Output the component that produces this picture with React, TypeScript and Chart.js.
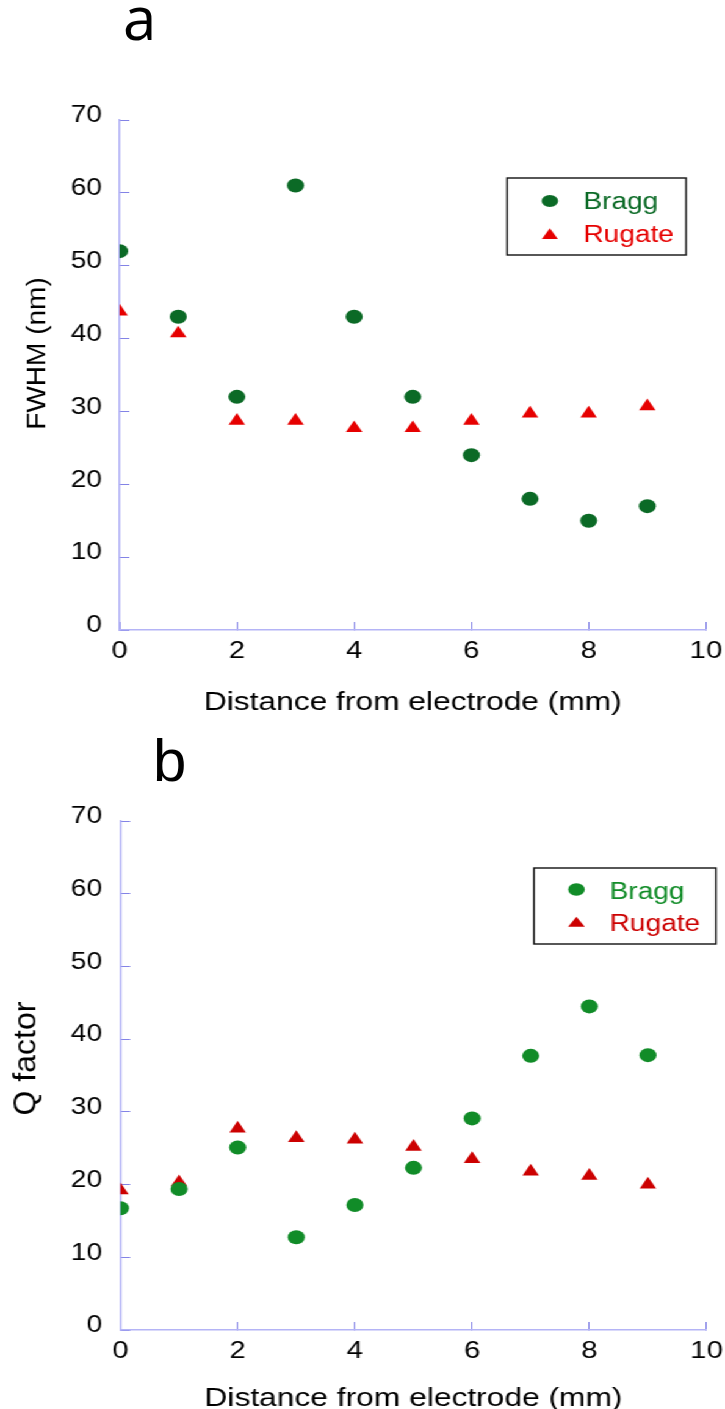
import React, { useEffect, useRef } from 'react';
import { Chart, registerables } from 'chart.js';

Chart.register(...registerables);

// ---- data ----
const distanceMm = [0, 1, 2, 3, 4, 5, 6, 7, 8, 9];
const fwhmBragg = [52, 43, 32, 61, 43, 32, 24, 18, 15, 17];
const fwhmRugate = [43.7, 40.7, 28.7, 28.7, 27.7, 27.7, 28.7, 29.7, 29.7, 30.7];
const qBragg = [16.75, 19.4, 25.1, 12.75, 17.2, 22.3, 29.1, 37.7, 44.5, 37.8];
const qRugate = [19.2, 20.3, 27.7, 26.4, 26.2, 25.2, 23.5, 21.8, 21.2, 20.0];
const xTickValues = [0, 2, 4, 6, 8, 10];
const yTickValues = [0, 10, 20, 30, 40, 50, 60, 70];
const seriesLabels = ['Bragg', 'Rugate'];
const xTitle = 'Distance from electrode (mm)';

// ---- styling ----
const CW = 594;
const S = 725 / CW; // horizontal stretch of the drawing
const FONT = '"Liberation Sans", Arial, Helvetica, sans-serif';
const AXIS = '#b4b4f6';
const TICK = '#8383e6';

const yTitlePlugin = {
  id: 'yTitle',
  afterDraw(chart: any, _a: any, o: any) {
    const ctx = chart.ctx;
    ctx.save();
    ctx.translate(o.x, o.y);
    ctx.scale(1 / S, 1);
    ctx.rotate(-Math.PI / 2);
    ctx.font = `${o.size}px ${FONT}`;
    ctx.fillStyle = '#000';
    ctx.textAlign = 'center';
    ctx.textBaseline = 'middle';
    ctx.fillText(o.text, 0, 0);
    ctx.restore();
  },
};

const boxLegendPlugin = {
  id: 'boxLegend',
  afterDraw(chart: any, _a: any, o: any) {
    const ctx = chart.ctx;
    ctx.save();
    ctx.lineWidth = 1.4;
    ctx.strokeStyle = '#111';
    ctx.strokeRect(o.left, o.top, o.width, o.height);
    chart.data.datasets.forEach((ds: any, i: number) => {
      const row = o.rows[i];
      ctx.fillStyle = ds.backgroundColor;
      ctx.beginPath();
      if (ds.pointStyle === 'triangle') {
        ctx.moveTo(o.markerX, row.my - o.triH / 2);
        ctx.lineTo(o.markerX + o.triW / 2, row.my + o.triH / 2);
        ctx.lineTo(o.markerX - o.triW / 2, row.my + o.triH / 2);
        ctx.closePath();
      } else {
        ctx.ellipse(o.markerX, row.my, o.rx, o.ry, 0, 0, Math.PI * 2);
      }
      ctx.fill();
      ctx.font = `${o.fontSize}px ${FONT}`;
      ctx.textAlign = 'left';
      ctx.textBaseline = 'alphabetic';
      ctx.fillText(ds.label, o.textX, row.ty);
    });
    ctx.restore();
  },
};

function makeConfig(p: any): any {
  return {
    type: 'scatter',
    data: {
      datasets: [
        {
          label: seriesLabels[0],
          data: distanceMm.map((x, i) => ({ x, y: p.bragg[i] })),
          pointStyle: 'circle',
          pointRadius: 7,
          pointHoverRadius: 7,
          backgroundColor: p.braggColor,
          borderWidth: 0,
        },
        {
          label: seriesLabels[1],
          data: distanceMm.map((x, i) => ({ x, y: p.rugate[i] })),
          pointStyle: 'triangle',
          pointRadius: 7.8,
          pointHoverRadius: 7.8,
          backgroundColor: p.rugateColor,
          borderWidth: 0,
        },
      ],
    },
    options: {
      responsive: false,
      animation: false,
      events: [],
      layout: { padding: { left: 0, right: p.padRight, top: p.padTop, bottom: 0 } },
      plugins: {
        legend: { display: false },
        tooltip: { enabled: false },
        title: { display: false },
        yTitle: p.yTitle,
        boxLegend: p.legend,
      },
      scales: {
        x: {
          type: 'linear',
          min: 0,
          max: 10,
          afterBuildTicks: (s: any) => {
            s.ticks = xTickValues.map((value) => ({ value }));
          },
          afterFit: (s: any) => {
            s.height = 90;
            s.paddingLeft = 0;
            s.paddingRight = 0;
          },
          ticks: { font: { family: FONT, size: 24 }, color: '#000', padding: 15, maxRotation: 0 },
          grid: { drawOnChartArea: false, drawTicks: true, tickLength: -8, tickColor: TICK, tickWidth: 1 },
          border: { display: true, color: AXIS, width: 1.5 },
          title: {
            display: true,
            text: xTitle,
            color: '#000',
            font: { family: FONT, size: 26 },
            padding: { top: 0, bottom: p.xTitlePad },
          },
        },
        y: {
          type: 'linear',
          min: 0,
          max: 70,
          afterBuildTicks: (s: any) => {
            s.ticks = yTickValues.map((value) => ({ value }));
          },
          afterFit: (s: any) => {
            s.width = p.yWidth;
            s.paddingTop = 0;
            s.paddingBottom = 0;
          },
          ticks: { font: { family: FONT, size: 23 }, color: '#000', padding: p.yTickPad, labelOffset: -4 },
          grid: { drawOnChartArea: false, drawTicks: true, tickLength: -8, tickColor: TICK, tickWidth: 1 },
          border: { display: true, color: AXIS, width: 1.5 },
        },
      },
    },
    plugins: [yTitlePlugin, boxLegendPlugin],
  };
}

const panelA = {
  bragg: fwhmBragg,
  rugate: fwhmRugate,
  braggColor: '#0b6a26',
  rugateColor: '#e60000',
  padRight: 15.6,
  padTop: 120,
  yWidth: 98,
  yTickPad: 22.5,
  xTitlePad: 1.5,
  yTitle: { text: 'FWHM (nm)', x: 30.7, y: 353.5, size: 28 },
  legend: {
    left: 415.4, top: 178, width: 146.7, height: 77,
    markerX: 450.5, textX: 478, fontSize: 23,
    rx: 6.8, ry: 5.9, triW: 13.1, triH: 10.7,
    rows: [{ my: 201, ty: 209 }, { my: 233.7, ty: 241.7 }],
  },
};

const panelB = {
  bragg: qBragg,
  rugate: qRugate,
  braggColor: '#118c28',
  rugateColor: '#cc0000',
  padRight: 15.1,
  padTop: 101,
  yWidth: 98.7,
  yTickPad: 23,
  xTitlePad: 5.2,
  yTitle: { text: 'Q factor', x: 22, y: 338.5, size: 32 },
  legend: {
    left: 437.5, top: 148, width: 149.1, height: 76,
    markerX: 472.3, textX: 499.5, fontSize: 23,
    rx: 6.8, ry: 6.2, triW: 13.7, triH: 10,
    rows: [{ my: 169.5, ty: 179 }, { my: 201.7, ty: 211 }],
  },
};

function Panel({ top, height, params }: { top: number; height: number; params: any }) {
  const ref = useRef<HTMLCanvasElement | null>(null);
  useEffect(() => {
    if (!ref.current) return;
    const chart = new Chart(ref.current, makeConfig(params));
    return () => chart.destroy();
  }, []);
  return (
    <canvas
      ref={ref}
      width={CW}
      height={height}
      style={{ position: 'absolute', left: 0, top, width: CW, height }}
    />
  );
}

export default function App() {
  return (
    <div
      style={{
        position: 'absolute',
        left: 0,
        top: 0,
        width: 725,
        height: 1409,
        overflow: 'hidden',
        background: '#fff',
      }}
    >
      <div
        style={{
          position: 'absolute',
          left: 0,
          top: 0,
          width: CW,
          height: 1409,
          transform: `scaleX(${S})`,
          transformOrigin: '0 0',
        }}
      >
        <Panel top={0} height={720} params={panelA} />
        <Panel top={720} height={700} params={panelB} />
      </div>
      <div
        style={{
          position: 'absolute',
          left: 123,
          top: -13.3,
          fontFamily: '"Open Sans", sans-serif',
          fontSize: 60,
          lineHeight: '60px',
          color: '#000',
        }}
      >
        a
      </div>
      <div
        style={{
          position: 'absolute',
          left: 153,
          top: 731.2,
          fontFamily: FONT,
          fontSize: 60,
          lineHeight: '60px',
          color: '#000',
        }}
      >
        b
      </div>
    </div>
  );
}
